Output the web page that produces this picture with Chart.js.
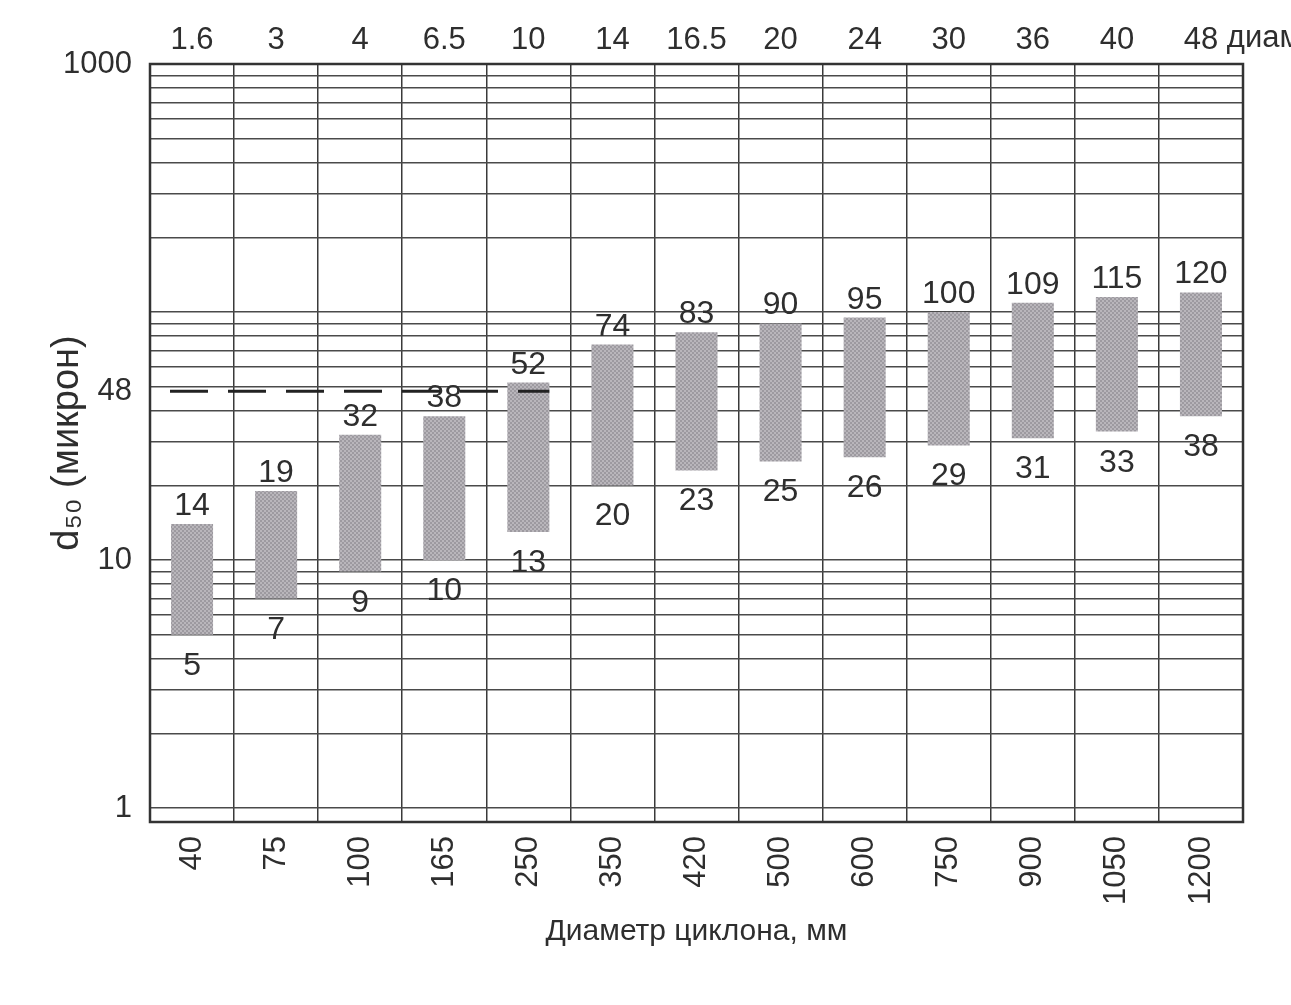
<!DOCTYPE html>
<html lang="ru">
<head>
<meta charset="utf-8">
<title>d50 — диаметр циклона</title>
<script src="https://cdn.jsdelivr.net/npm/chart.js@4.4.1/dist/chart.umd.min.js"></script>
<style>
  html, body { margin: 0; padding: 0; background: #fff; }
  #wrap { width: 1291px; height: 1005px; position: relative; }
</style>
</head>
<body>
<div id="wrap"><canvas id="cycloneChart"></canvas></div>
<script>
// cyclone diameter, mm (bottom axis) and inches (top axis)
const diametersMm = ['40', '75', '100', '165', '250', '350', '420', '500', '600', '750', '900', '1050', '1200'];
const diametersIn = ['1.6', '3', '4', '6.5', '10', '14', '16.5', '20', '24', '30', '36', '40', '48'];

// d50 range, microns
const d50Low  = [5, 7, 9, 10, 13, 20, 23, 25, 26, 29, 31, 33, 38];
const d50High = [14, 19, 32, 38, 52, 74, 83, 90, 95, 100, 109, 115, 120];

const yLabelValues = [1, 10, 48, 1000];
const cutoffValue = 48;     // dashed line
const cutoffLastBar = 4;    // dashed line stops at the 250 mm bar

// log grid: 1..9, 10..90, 100..1000 plus the 48 label
const yGridValues = [];
[1, 10, 100].forEach(d => { for (let k = 1; k < 10; k++) yGridValues.push(k * d); });
yGridValues.push(1000, cutoffValue);
yGridValues.sort((a, b) => a - b);

const FONT = "'Liberation Sans', Arial, sans-serif";
Chart.defaults.font.family = FONT;
Chart.defaults.color = '#2e2e2e';

const canvas = document.getElementById('cycloneChart');
const ctx = canvas.getContext('2d');

function halftone() {
  const c = document.createElement('canvas');
  c.width = 4; c.height = 4;
  const g = c.getContext('2d');
  g.fillStyle = '#b9b6bb';
  g.fillRect(0, 0, 4, 4);
  g.fillStyle = '#9d9aa0';
  g.fillRect(0, 0, 2, 2);
  g.fillRect(2, 2, 2, 2);
  return ctx.createPattern(c, 'repeat');
}

const extras = {
  id: 'extras',
  afterDatasetsDraw(chart) {
    const { ctx, chartArea, scales } = chart;
    const meta = chart.getDatasetMeta(0);
    ctx.save();
    ctx.font = '32px ' + FONT;
    ctx.fillStyle = '#2e2e2e';
    ctx.textAlign = 'center';
    ctx.textBaseline = 'alphabetic';
    meta.data.forEach((bar, i) => {
      ctx.fillText(String(d50High[i]), bar.x, scales.y.getPixelForValue(d50High[i]) - 9);
      ctx.fillText(String(d50Low[i]), bar.x, scales.y.getPixelForValue(d50Low[i]) + 40);
    });
    // dashed line at 48
    const yc = scales.y.getPixelForValue(cutoffValue);
    const last = meta.data[cutoffLastBar];
    ctx.strokeStyle = '#222';
    ctx.lineWidth = 3;
    ctx.setLineDash([38, 20]);
    ctx.beginPath();
    ctx.moveTo(chartArea.left + 20, yc);
    ctx.lineTo(last.x + last.width / 2, yc);
    ctx.stroke();
    ctx.restore();
  },
  afterDraw(chart) {
    const { ctx, chartArea, scales } = chart;
    ctx.save();
    ctx.strokeStyle = '#333';
    ctx.lineWidth = 2.5;
    ctx.strokeRect(chartArea.left, chartArea.top, chartArea.right - chartArea.left, chartArea.bottom - chartArea.top);
    // "диам" after the last inch label
    const top = scales.x2;
    const lastIdx = diametersIn.length - 1;
    ctx.font = '31px ' + FONT;
    ctx.fillStyle = '#2e2e2e';
    ctx.textAlign = 'left';
    ctx.textBaseline = 'middle';
    const w = ctx.measureText(diametersIn[lastIdx]).width;
    ctx.fillText(' диам', top.getPixelForTick(lastIdx) + w / 2, 38);
    ctx.restore();
  }
};

new Chart(ctx, {
  type: 'bar',
  data: {
    labels: diametersMm,
    datasets: [{
      label: 'd50',
      data: d50Low.map((lo, i) => [lo, d50High[i]]),
      backgroundColor: halftone(),
      borderWidth: 0,
      barPercentage: 0.5,
      categoryPercentage: 1.0
    }]
  },
  options: {
    responsive: true,
    maintainAspectRatio: false,
    animation: false,
    layout: { padding: { left: 40, top: 0, right: 48, bottom: 45 } },
    plugins: {
      legend: { display: false },
      tooltip: { enabled: false }
    },
    scales: {
      x: {
        type: 'category',
        position: 'bottom',
        offset: true,
        afterFit: s => { s.height = 138; },
        grid: { offset: true, color: '#3a3a3a', lineWidth: 1.5, drawTicks: false },
        border: { display: false },
        ticks: { font: { size: 31 }, minRotation: 90, maxRotation: 90, padding: 14, autoSkip: false },
        title: {
          display: true,
          text: 'Диаметр циклона, мм',
          font: { size: 30 },
          padding: { top: 0, bottom: 10 }
        }
      },
      x2: {
        type: 'category',
        position: 'top',
        labels: diametersIn,
        offset: true,
        afterFit: s => { s.height = 64; },
        grid: { display: false },
        border: { display: false },
        ticks: { font: { size: 31 }, maxRotation: 0, autoSkip: false, padding: -3 }
      },
      y: {
        type: 'logarithmic',
        min: 0.88,
        max: 1000,
        afterFit: s => { s.width = 110; },
        afterBuildTicks: s => { s.ticks = yGridValues.map(v => ({ value: v })); },
        grid: {
          color: c => (c.tick && c.tick.value === cutoffValue) ? 'rgba(0,0,0,0)' : '#4a4a4a',
          lineWidth: 1.5,
          drawTicks: false
        },
        border: { display: false },
        ticks: {
          font: { size: 31 },
          padding: 18,
          autoSkip: false,
          callback: v => yLabelValues.includes(v) ? String(v) : ''
        },
        title: {
          display: true,
          text: 'd₅₀ (микрон)',
          font: { size: 38 },
          padding: { top: 5, bottom: 0 }
        }
      }
    }
  },
  plugins: [extras]
});
</script>
</body>
</html>
